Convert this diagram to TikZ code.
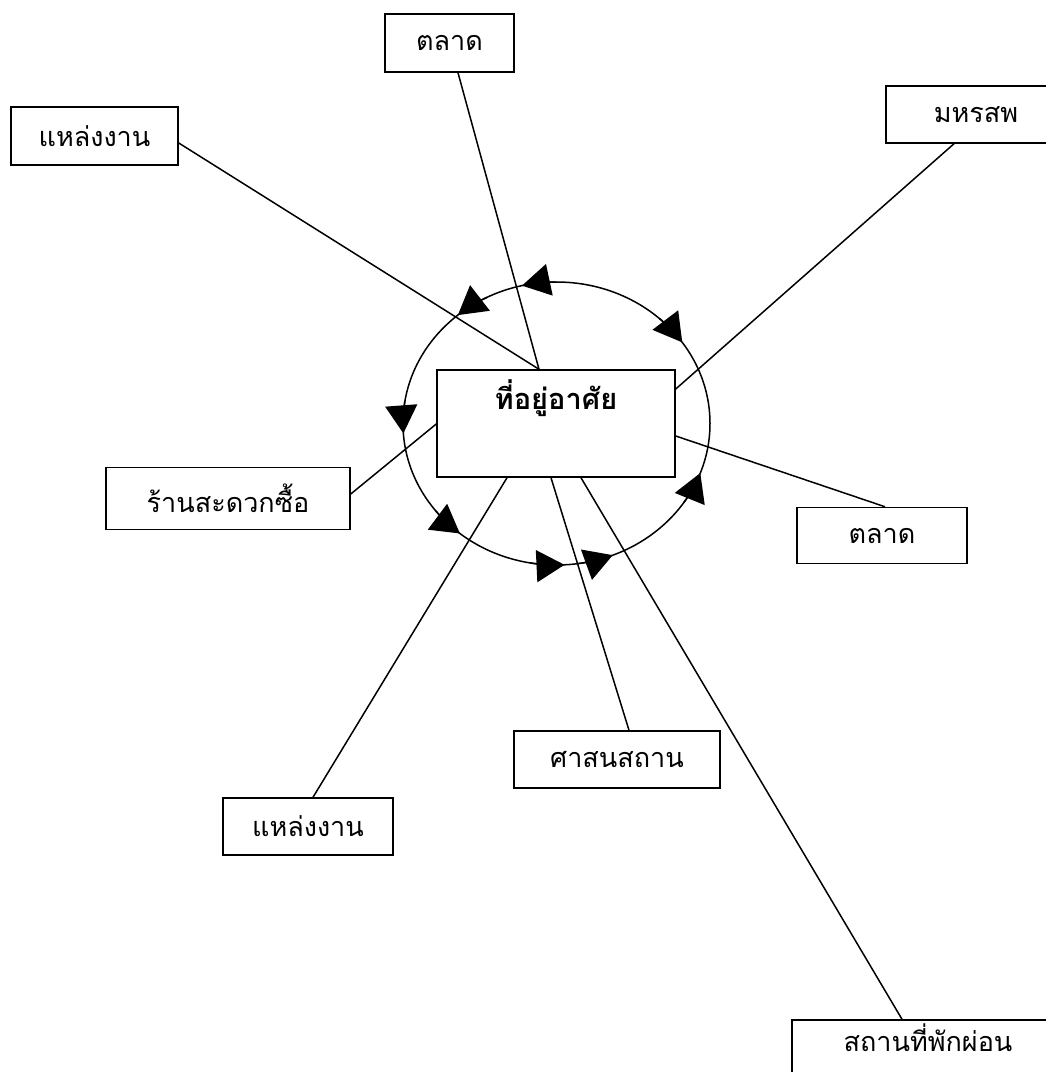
\documentclass[tikz,border=0pt]{standalone}
\usepackage{fontspec}
\newfontfamily\thai[Script=Thai]{Loma}
\usetikzlibrary{arrows.meta}
\begin{document}
\begin{tikzpicture}[x=1pt,y=-1pt,
  box/.style={draw, line width=1.5pt, rectangle, inner sep=0pt,
    font=\thai\fontsize{27}{30}\selectfont, minimum height=58pt},
  link/.style={line width=1.5pt},
  ring/.style={line width=1.5pt},
  ringtip/.style={line width=1.5pt, -{Triangle[length=28pt,width=32pt]}}]
\useasboundingbox (0,0) rectangle (1046,1072);

% ring
\draw[ring] (556.5,423.5) ellipse [x radius=153.5, y radius=141.5];
\begin{scope}[shift={(556.5,423.5)}]
  \draw[ringtip] (270:153.5 and 141.5) arc[start angle=270, end angle=257, x radius=153.5, y radius=141.5];
  \draw[ringtip] (243:153.5 and 141.5) arc[start angle=243, end angle=230, x radius=153.5, y radius=141.5];
  \draw[ringtip] (312:153.5 and 141.5) arc[start angle=312, end angle=325, x radius=153.5, y radius=141.5];
  \draw[ringtip] (189:153.5 and 141.5) arc[start angle=189, end angle=176, x radius=153.5, y radius=141.5];
  \draw[ringtip] (142:153.5 and 141.5) arc[start angle=142, end angle=129, x radius=153.5, y radius=141.5];
  \draw[ringtip] (100:153.5 and 141.5) arc[start angle=100, end angle=87, x radius=153.5, y radius=141.5];
  \draw[ringtip] (82:153.5 and 141.5) arc[start angle=82, end angle=68.5, x radius=153.5, y radius=141.5];
  \draw[ringtip] (34:153.5 and 141.5) arc[start angle=34, end angle=20.5, x radius=153.5, y radius=141.5];
\end{scope}

% boxes
\node[box, minimum width=238pt, minimum height=107pt,
  font=\thai\bfseries\fontsize{29}{32}\selectfont,
  text height=22pt, text depth=50pt, fill=white] (home) at (556,423.5) {ที่อยู่อาศัย};
\node[box, minimum width=129pt] (mt) at (449.5,43) {ตลาด};
\node[box, minimum width=167pt] (wt) at (94.5,136) {แหล่งงาน};
\node[box, minimum width=180pt, minimum height=57pt] (ent) at (976,114.5) {มหรสพ};
\node[box, minimum width=244pt, minimum height=62pt] (shop) at (228,498.5) {ร้านสะดวกซื้อ};
\node[box, minimum width=170pt, minimum height=56pt] (mr) at (882,535.5) {ตลาด};
\node[box, minimum width=206pt, minimum height=57pt] (rel) at (617,759.5) {ศาสนสถาน};
\node[box, minimum width=170pt, minimum height=57pt] (wb) at (308,826.5) {แหล่งงาน};
\node[box, minimum width=272pt, minimum height=58pt,
  text height=20pt, text depth=16pt] (rest) at (928,1049) {สถานที่พักผ่อน};

% connectors
\draw[link] ([yshift=-7pt]wt.east) -- ([xshift=-17pt]home.north);
\draw[link] ([xshift=8.5pt]mt.south) -- ([xshift=-17pt]home.north);
\draw[link] ([xshift=-22pt]ent.south) -- ([yshift=34.5pt]home.east);
\draw[link] ([yshift=4.5pt]shop.east) -- ([yshift=-0.5pt]home.west);
\draw[link] ([xshift=3pt]mr.north) -- ([yshift=-12.5pt]home.east);
\draw[link] ([xshift=-5pt]home.south) -- ([xshift=12pt]rel.north);
\draw[link] ([xshift=-49pt]home.south) -- ([xshift=5pt]wb.north);
\draw[link] ([xshift=25pt]home.south) -- ([xshift=-26pt]rest.north);
\end{tikzpicture}
\end{document}
